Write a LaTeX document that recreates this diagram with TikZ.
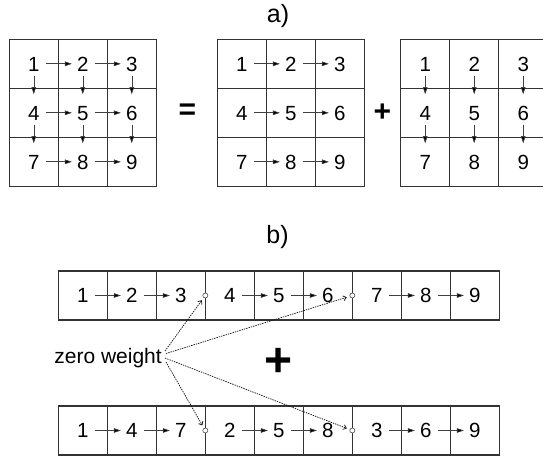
\documentclass[tikz,border=0pt]{standalone}
\usepackage{fontspec}
\setmainfont{Liberation Sans}
\usetikzlibrary{arrows.meta,calc}
\begin{document}
\begin{tikzpicture}[x=1pt,y=-1pt,
  cellbox/.style={draw=black!80, line width=1.1pt, minimum size=49pt, inner sep=0pt, outer sep=0pt},
  num/.style={font=\fontsize{20.5}{24}\selectfont, inner sep=0pt, text height=14.7pt, text depth=0pt},
  arrbase/.style={draw=black!75, line width=0.6pt, -{Triangle[length=7pt,width=4.5pt,fill=black]}},
  harr/.style={arrbase, shorten <=6.5pt, shorten >=5pt},
  varr/.style={arrbase, shorten <=4.3pt, shorten >=11pt},
  zarr/.style={draw=black!90, line width=0.75pt, dash pattern=on 1.4pt off 1pt, -{Straight Barb[length=3pt,width=5pt]}, shorten >=3pt},
  zc/.style={circle, draw=black!70, fill=white, line width=0.6pt, minimum size=5pt, inner sep=0pt},
  lbl/.style={font=\fontsize{25}{30}\selectfont, inner sep=0pt},
  op/.style={font=\fontsize{30}{36}\selectfont\bfseries, inner sep=0pt},
  bigop/.style={font=\fontsize{48}{56}\selectfont\bfseries, inner sep=0pt}
]
\useasboundingbox (0,0) rectangle (543,457);
\clip (0,0) rectangle (543,457);

% labels
\node[lbl] (la) at (278,16) {a)};
\node[lbl] (lb) at (277.5,237) {b)};

% part a) grids
\foreach \g/\ox in {A/9.3, B/217.3, C/400.7} {
  \foreach \r in {0,1,2} {
    \foreach \c in {0,1,2} {
      \pgfmathtruncatemacro\k{3*\r+\c+1}
      \node[cellbox] (\g c\k) at ({\ox+24.5+49*\c}, {39.3+24.5+49*\r}) {};
      \node[num] (\g\k) at (\g c\k) {\k};
    }
  }
}
\foreach \a/\b in {1/2,2/3,4/5,5/6,7/8,8/9} {
  \draw[harr] (A\a) -- (A\b);
  \draw[harr] (B\a) -- (B\b);
}
\foreach \a/\b in {1/4,2/5,3/6,4/7,5/8,6/9} {
  \draw[varr] (A\a) -- (A\b);
  \draw[varr] (C\a) -- (C\b);
}
\node[op] (eq) at (187.5,112) {=};
\node[op] (pl) at (382.5,112.5) {+};

% part b) strips
\foreach \t [count=\i from 0] in {1,2,3,4,5,6,7,8,9} {
  \node[cellbox] (Tc\i) at ({58.3+24.5+49*\i}, 295.5) {};
  \node[num] (Tn\i) at (Tc\i) {\t};
}
\foreach \t [count=\i from 0] in {1,4,7,2,5,8,3,6,9} {
  \node[cellbox] (Bc\i) at ({58.3+24.5+49*\i}, 430.5) {};
  \node[num] (Bn\i) at (Bc\i) {\t};
}
\foreach \a/\b in {0/1,1/2,3/4,4/5,6/7,7/8} {
  \draw[harr] (Tn\a) -- (Tn\b);
  \draw[harr] (Bn\a) -- (Bn\b);
}
\node[zc] (zA) at (Tc2.east) {};
\node[zc] (zB) at (Tc5.east) {};
\node[zc] (zC) at (Bc2.east) {};
\node[zc] (zD) at (Bc5.east) {};

\node[font=\fontsize{21}{25}\selectfont, anchor=base east, inner sep=0pt] (zw) at (162,363) {zero weight};
\coordinate (s1) at ([shift={(3,-12)}]zw.base east);
\coordinate (s2) at ([shift={(4,-9.5)}]zw.base east);
\coordinate (s3) at ([shift={(3,-5)}]zw.base east);
\coordinate (s4) at ([shift={(4,-1)}]zw.base east);
\draw[zarr] (s1) -- (zA);
\draw[zarr] (s2) -- (zB);
\draw[zarr] (s3) -- (zD);
\draw[zarr] (s4) -- (zC);

\node[bigop] (pl2) at (279,362) {+};
\end{tikzpicture}
\end{document}
